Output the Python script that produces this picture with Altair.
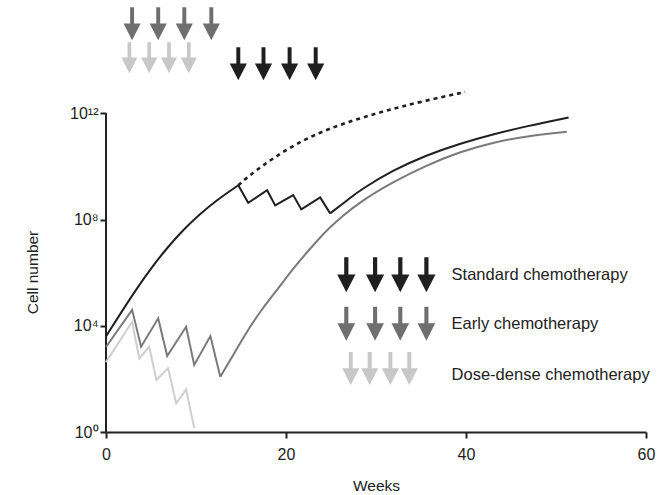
import altair as alt
import pandas as pd

# ---------------- data (values are log10 of cell number) ----------------
# Standard chemotherapy: growth, treatment zig-zag, regrowth
std_grow_wk = [0, 3.0, 4.9, 6.7, 8.6, 10.4, 12.3, 14.7]
std_grow_lg = [3.6, 5.20, 6.12, 6.90, 7.62, 8.19, 8.73, 9.29]
std_zig_wk = [14.7, 15.8, 17.9, 18.8, 20.8, 21.7, 23.8, 24.9]
std_zig_lg = [9.29, 8.63, 9.10, 8.53, 8.92, 8.38, 8.83, 8.23]
std_regrow_wk = [24.9, 27.1, 28.2, 31.9, 35.6, 39.3, 43.0, 46.7, 51.4]
std_regrow_lg = [8.23, 8.80, 9.10, 9.86, 10.42, 10.86, 11.21, 11.51, 11.84]
# Untreated growth (dotted)
untreated_wk = [14.7, 16.4, 20.1, 23.8, 27.5, 31.2, 34.9, 39.9]
untreated_lg = [9.29, 9.79, 10.67, 11.30, 11.74, 12.11, 12.43, 12.80]
# Early chemotherapy
early_zig_wk = [0, 2.9, 3.9, 5.8, 6.8, 8.9, 9.8, 11.6, 12.7]
early_zig_lg = [3.2, 4.6, 3.21, 4.28, 2.86, 3.96, 2.52, 3.61, 2.08]
early_regrow_wk = [12.7, 13.8, 15.3, 17.1, 19.0, 20.8, 22.7, 24.5, 26.4,
                   28.2, 31.9, 35.6, 39.3, 43.0, 46.7, 51.2]
early_regrow_lg = [2.08, 2.70, 3.59, 4.53, 5.34, 6.16, 6.91, 7.60, 8.16,
                   8.66, 9.42, 10.04, 10.55, 10.90, 11.14, 11.30]
# Dose-dense chemotherapy
dd_wk = [0, 2.9, 3.7, 4.8, 5.6, 6.9, 7.8, 8.9, 9.8]
dd_lg = [2.63, 4.15, 2.77, 3.21, 1.96, 2.40, 1.08, 1.60, 0.15]

# dosing schedules (weeks)
early_doses = [2.9, 5.8, 8.7, 11.7]
dd_doses = [2.6, 4.8, 7.0, 9.2]
std_doses = [14.7, 17.5, 20.4, 23.3]

# legend
legend_labels = ["Standard chemotherapy", "Early chemotherapy", "Dose-dense chemotherapy"]
legend_std_x = [26.7, 29.9, 32.7, 35.6]
legend_early_x = [26.7, 29.9, 32.7, 35.6]
legend_dd_x = [27.2, 29.3, 31.6, 33.7]

# ---------------- layout constants (in axis units) ----------------
ROW_EARLY_TOP, ROW_DD_TOP, ROW_STD_TOP = 15.37, 14.09, 13.86
LEG_ROWS = [5.92, 4.08, 2.39]
LEG_TEXT_ROWS = [5.74, 3.86, 1.96]
LEG_TEXT_X = 38.4

BLACK, GRAY, LIGHT = "#1f1f1f", "#6f6f6f", "#c8c8c8"
LINE_GRAY, LINE_LIGHT = "#7a7a7a", "#cfcfcf"
FONT = "Liberation Sans"
ARROW = "M-0.12,-1L0.12,-1L0.12,-0.02L0.52,-0.02L0,1L-0.52,-0.02L-0.12,-0.02Z"


def seg(wk, lg):
    return pd.DataFrame({"week": wk, "cells": [10 ** v for v in lg]})


x_enc = alt.X(
    "week:Q",
    scale=alt.Scale(domain=[0, 60], nice=False),
    axis=alt.Axis(
        values=[0, 20, 40, 60], format="d", title="Weeks", grid=False,
        domainWidth=2, domainColor="#222", tickWidth=2, tickColor="#222", tickSize=6,
        labelFontSize=16, labelColor="#222", labelFont=FONT, labelPadding=8, labelFlush=False,
        titleFontSize=15.5, titleFontWeight="normal", titleColor="#222", titleFont=FONT,
        titleY=53, titleBaseline="middle",
    ),
)
y_axis = alt.Axis(
    values=[1, 1e4, 1e8, 1e12], domain=False, grid=False,
    labelExpr="'10' + (datum.value < 2 ? '\u2070' : datum.value < 1e5 ? '\u2074' : datum.value < 1e9 ? '\u2078' : '\u00b9\u00b2')",
    tickWidth=2, tickColor="#222", tickSize=6,
    labelFontSize=16, labelColor="#222", labelFont=FONT, labelPadding=2,
    title="Cell number", titleFontSize=15.5, titleFontWeight="normal", titleColor="#222",
    titleFont=FONT, titleX=-74, titleY=265, titleBaseline="middle",
)
y_scale = alt.Scale(type="log", domain=[1, 1e16], nice=False)


def y_enc(field="cells"):
    return alt.Y(f"{field}:Q", scale=y_scale, axis=y_axis)


def smooth(wk, lg, color, width=2, dash=None):
    kw = dict(color=color, strokeWidth=width, interpolate="basis")
    if dash:
        kw["strokeDash"] = dash
    return alt.Chart(seg(wk, lg)).mark_line(**kw).encode(x=x_enc, y=y_enc())


def zig(wk, lg, color, width=2):
    return alt.Chart(seg(wk, lg)).mark_line(color=color, strokeWidth=width).encode(x=x_enc, y=y_enc())


def arrows(xs, row, color, size):
    df = pd.DataFrame({"week": xs, "cells": [10 ** row] * len(xs)})
    return alt.Chart(df).mark_point(shape=ARROW, filled=True, size=size, color=color,
                                    opacity=1, strokeWidth=0).encode(x=x_enc, y=y_enc())


axis_line = alt.Chart(pd.DataFrame({"week": [0], "cells": [1], "top": [1e12]})).mark_rule(
    color="#222", strokeWidth=2).encode(x=x_enc, y=y_enc(), y2="top:Q")

texts = alt.Chart(pd.DataFrame({
    "week": [LEG_TEXT_X] * 3,
    "cells": [10 ** r for r in LEG_TEXT_ROWS],
    "label": legend_labels,
})).mark_text(align="left", baseline="alphabetic", fontSize=16.5, font=FONT, color="#222").encode(
    x=x_enc, y=y_enc(), text="label:N")

chart = alt.layer(
    axis_line,
    smooth(untreated_wk, untreated_lg, BLACK, 2.6, [4, 4]),
    zig(dd_wk, dd_lg, LINE_LIGHT),
    zig(early_zig_wk, early_zig_lg, LINE_GRAY),
    smooth(early_regrow_wk, early_regrow_lg, LINE_GRAY),
    smooth(std_grow_wk, std_grow_lg, BLACK),
    zig(std_zig_wk, std_zig_lg, BLACK),
    smooth(std_regrow_wk, std_regrow_lg, BLACK),
    arrows(early_doses, ROW_EARLY_TOP, GRAY, 1089),
    arrows(dd_doses, ROW_DD_TOP, LIGHT, 961),
    arrows(std_doses, ROW_STD_TOP, BLACK, 1089),
    arrows(legend_std_x, LEG_ROWS[0], BLACK, 1225),
    arrows(legend_early_x, LEG_ROWS[1], GRAY, 1156),
    arrows(legend_dd_x, LEG_ROWS[2], LIGHT, 1089),
    texts,
).properties(
    width=540, height=425,
    padding={"left": 106, "top": 7, "right": 21, "bottom": 63},
    autosize=alt.AutoSizeParams(type="none"),
    background="white",
).configure_view(stroke=None)

chart.save("out.html", embed_options={"renderer": "svg", "actions": False})
